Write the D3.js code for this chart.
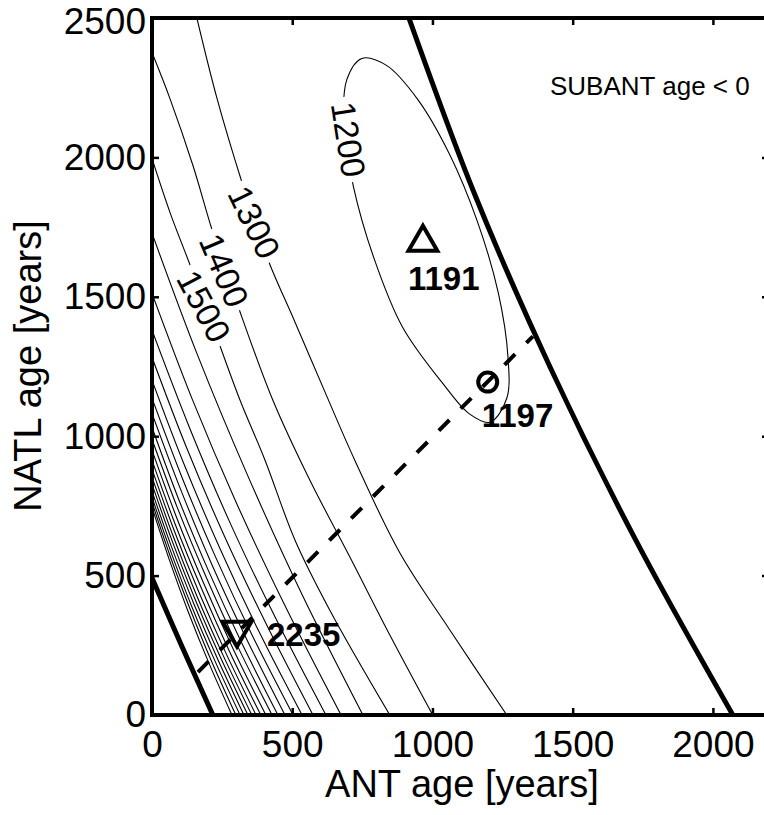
<!DOCTYPE html>
<html><head><meta charset="utf-8">
<script src="https://cdn.jsdelivr.net/npm/d3@7"></script>
<style>body{margin:0;background:#fff}svg{display:block}</style>
</head><body><svg id="c" width="764" height="815"></svg>
<script>
// ---- data (ANT age, NATL age) ----
const xTicks=[0,500,1000,1500,2000];
const yTicks=[0,500,1000,1500,2000,2500];
const c1200=[[1205,1050],[1265,1136],[1269,1287],[1235,1513],[1161,1768],[1060,2013],[946,2210],[836,2330],[748,2355],[695,2280],[684,2117],[719,1892],[792,1637],[893,1392],[1034,1193],[1133,1079]];
const c1300=[[160,2500],[232,2211],[321,1910],[410,1642],[510,1409],[617,1158],[723,914],[884,581],[1062,305],[1265,0]];
const c1400=[[0,2376],[64,2211],[146,1971],[217,1731],[303,1477],[431,1129],[563,842],[706,566],[848,287],[1001,0]];
const c1500=[[0,1996],[64,1803],[143,1595],[235,1344],[314,1129],[403,914],[510,627],[634,376],[848,0]];
const c1600=[[0,1728],[160,1297],[339,864],[535,432],[752,0]];
const c1700=[[0,1512],[143,1134],[303,756],[481,378],[674,0]];
const c1800=[[0,1380],[132,1035],[278,690],[442,345],[620,0]];
const c1900=[[0,1283],[122,962],[258,642],[410,321],[574,0]];
const c2000=[[0,1201],[114,900],[241,600],[381,300],[535,0]];
const c2100=[[0,1136],[107,852],[226,568],[358,284],[503,0]];
const c2200=[[0,1082],[101,812],[213,541],[338,271],[474,0]];
const c2300=[[0,1032],[95,774],[202,516],[320,258],[449,0]];
const c2400=[[0,989],[91,742],[193,495],[305,247],[428,0]];
const c2500=[[0,950],[86,713],[183,475],[289,238],[406,0]];
const c2600=[[0,914],[82,686],[175,457],[276,229],[388,0]];
const c2700=[[0,882],[79,662],[167,441],[264,221],[371,0]];
const c2800=[[0,853],[76,640],[160,427],[254,213],[356,0]];
const c2900=[[0,828],[73,621],[154,414],[244,207],[342,0]];
const c3000=[[0,803],[70,602],[148,402],[234,201],[328,0]];
const c3100=[[0,781],[67,586],[141,391],[224,195],[314,0]];
const c3200=[[0,763],[64,572],[135,382],[213,191],[299,0]];
const c3300=[[0,745],[61,559],[128,373],[203,186],[285,0]];
const contourLevels=[1200,1300,1400,1500,1600,1700,1800,1900,2000,2100,2200,2300,2400,2500,2600,2700,2800,2900,3000,3100,3200,3300];
const contourLines=[c1200,c1300,c1400,c1500,c1600,c1700,c1800,c1900,c2000,c2100,c2200,c2300,c2400,c2500,c2600,c2700,c2800,c2900,c3000,c3100,c3200,c3300];
const labelLevels=[1200,1300,1400,1500];
const labelX=[700,364,257,185];
const labelY=[2064,1767,1595,1466];
const labelAngle=[81,64,67,62];
const boundLeft=[[0,491],[108,243],[217,0]];
const boundRight=[[916,2500],[1148,1874],[1418,1251],[1725,627],[2071,0]];
const dashedLine=[[164,154],[1358,1358]];
const markerX=[966,1197,303];
const markerY=[1695,1194,305];
const markerValue=["1191","1197","2235"];
const markerShape=["up","circle","down"];
const noteText="SUBANT age < 0";

// ---- drawing ----
const font='"Liberation Sans", Arial, Helvetica, sans-serif';
const svg=d3.select('#c');
const x=d3.scaleLinear().domain([0,2200]).range([152,769]);
const y=d3.scaleLinear().domain([0,2500]).range([715,18]);
const defs=svg.append('defs');
defs.append('clipPath').attr('id','clip').append('rect')
  .attr('x',x(0)).attr('y',y(2500)).attr('width',x(2200)-x(0)).attr('height',y(0)-y(2500));

const line=d3.line().x(d=>x(d[0])).y(d=>y(d[1])).curve(d3.curveCatmullRom.alpha(0.5));
const lineClosed=d3.line().x(d=>x(d[0])).y(d=>y(d[1])).curve(d3.curveCatmullRomClosed.alpha(0.5));

const plot=svg.append('g').attr('clip-path','url(#clip)');
const labG=svg.append('g');

const LFS=34;
const labInfo={};
labelLevels.forEach((lv,i)=>{
  const t=labG.append('text')
    .attr('transform',`translate(${x(labelX[i])},${y(labelY[i])}) rotate(${labelAngle[i]})`)
    .attr('text-anchor','middle').attr('dy','0.35em')
    .attr('font-family',font).attr('font-size',LFS).attr('fill','#000')
    .text(String(lv));
  labInfo[lv]={i,len:t.node().getComputedTextLength()};
});

contourLevels.forEach((lv,k)=>{
  const pts=contourLines[k];
  const p=plot.append('path')
    .attr('d',lv===1200?lineClosed(pts):line(pts))
    .attr('fill','none').attr('stroke','#000').attr('stroke-width',1.1);
  if(labInfo[lv]){
    const {i,len}=labInfo[lv];
    const m=defs.append('mask').attr('id','m'+lv).attr('maskUnits','userSpaceOnUse')
      .attr('x',0).attr('y',0).attr('width',764).attr('height',815);
    m.append('rect').attr('x',0).attr('y',0).attr('width',764).attr('height',815).attr('fill','#fff');
    m.append('rect').attr('x',-len/2-5).attr('y',-LFS*0.42).attr('width',len+10).attr('height',LFS*0.84)
      .attr('fill','#000')
      .attr('transform',`translate(${x(labelX[i])},${y(labelY[i])}) rotate(${labelAngle[i]})`);
    p.attr('mask',`url(#m${lv})`);
  }
});

plot.append('path').attr('d',line(boundLeft)).attr('fill','none').attr('stroke','#000').attr('stroke-width',5);
plot.append('path').attr('d',line(boundRight)).attr('fill','none').attr('stroke','#000').attr('stroke-width',5);
plot.append('path').attr('d',d3.line().x(d=>x(d[0])).y(d=>y(d[1]))(dashedLine))
  .attr('fill','none').attr('stroke','#000').attr('stroke-width',4).attr('stroke-dasharray','15,16');

const tri=d3.symbol().type(d3.symbolTriangle).size(360);
markerShape.forEach((s,i)=>{
  const cx=x(markerX[i]), cy=y(markerY[i]);
  if(s==='circle'){
    plot.append('circle').attr('cx',cx).attr('cy',cy).attr('r',9.5)
      .attr('fill','none').attr('stroke','#000').attr('stroke-width',4);
  } else {
    plot.append('path').attr('d',tri())
      .attr('transform',`translate(${cx},${cy}) rotate(${s==='down'?180:0})`)
      .attr('fill','none').attr('stroke','#000').attr('stroke-width',4).attr('stroke-linejoin','miter');
  }
});
const mOff=[[-15,48],[-6,45],[30,16]];
markerValue.forEach((v,i)=>{
  svg.append('text').attr('x',x(markerX[i])+mOff[i][0]).attr('y',y(markerY[i])+mOff[i][1])
    .attr('font-family',font).attr('font-size',33).attr('font-weight','bold').attr('fill','#000').text(v);
});

svg.append('text').attr('x',550).attr('y',95).attr('font-family',font).attr('font-size',26).attr('fill','#000').text(noteText);

function styleAxis(g){
  g.attr('font-family',font).attr('font-size',37);
  g.select('.domain').remove();
  g.selectAll('.tick line').attr('stroke','#000').attr('stroke-width',2.5);
  g.selectAll('.tick text').attr('fill','#000');
}
svg.append('g').attr('transform',`translate(0,${y(0)})`)
  .call(d3.axisBottom(x).tickValues(xTicks).tickSize(-7).tickPadding(16).tickFormat(d3.format('d'))).call(styleAxis);
svg.append('g').attr('transform',`translate(${x(0)},0)`)
  .call(d3.axisLeft(y).tickValues(yTicks).tickSize(-7).tickPadding(6).tickFormat(d3.format('d'))).call(styleAxis)
  .selectAll('.tick text').attr('dy',d=>d===2500?'0.42em':'0.32em');
svg.append('g').attr('transform',`translate(0,${y(2500)})`)
  .call(d3.axisTop(x).tickValues(xTicks).tickSize(-7).tickFormat('')).call(styleAxis);
svg.append('g').attr('transform',`translate(${x(2200)},0)`)
  .call(d3.axisRight(y).tickValues(yTicks).tickSize(-7).tickFormat('')).call(styleAxis);

svg.append('rect').attr('x',x(0)).attr('y',y(2500)).attr('width',x(2200)-x(0)).attr('height',y(0)-y(2500))
  .attr('fill','none').attr('stroke','#000').attr('stroke-width',4);

svg.append('text').attr('x',462).attr('y',797).attr('text-anchor','middle')
  .attr('font-family',font).attr('font-size',38).attr('fill','#000').text('ANT age [years]');
svg.append('text').attr('transform','translate(41,366) rotate(-90)').attr('text-anchor','middle')
  .attr('font-family',font).attr('font-size',38).attr('fill','#000').text('NATL age [years]');
</script></body></html>
